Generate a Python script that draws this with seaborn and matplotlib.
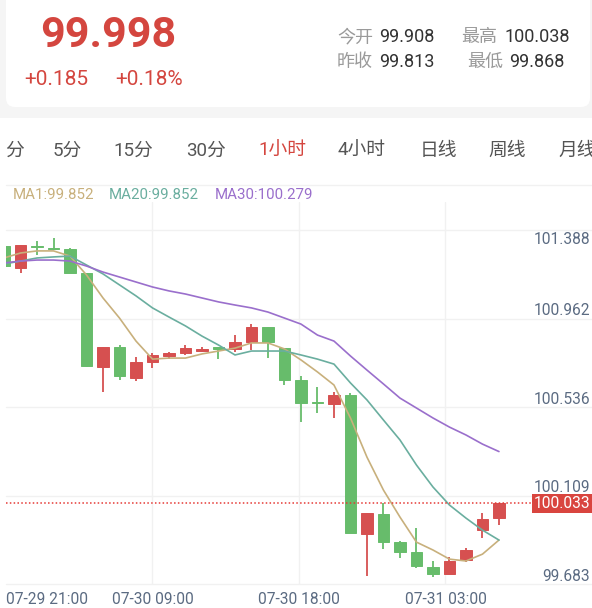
import matplotlib
matplotlib.use("Agg")

import matplotlib.pyplot as plt
import matplotlib.transforms as mtransforms
from matplotlib.lines import Line2D
from matplotlib.patches import FancyBboxPatch, Rectangle
import numpy as np
import seaborn as sns

W, H = 592, 608

# quote header
LAST = "99.998"
CHANGE = "+0.185"
CHANGE_PCT = "+0.18%"
STATS = [("今开", "99.908"), ("最高", "100.038"), ("昨收", "99.813"), ("最低", "99.868")]
TABS = ["分", "5分", "15分", "30分", "1小时", "4小时", "日线", "周线", "月线"]
ACTIVE_TAB = "1小时"

# hourly candles
OPEN = [101.271, 101.165, 101.271, 101.259, 101.256, 101.140, 100.687, 100.783, 100.634, 100.711,
        100.740, 100.754, 100.764, 100.783, 100.774, 100.807, 100.880, 100.778, 100.624, 100.518,
        100.508, 100.552, 99.881, 99.977, 99.842, 99.794, 99.722, 99.688, 99.755, 99.900, 99.958]
HIGH = [101.271, 101.276, 101.295, 101.309, 101.261, 101.140, 100.783, 100.793, 100.735, 100.754,
        100.759, 100.793, 100.783, 100.783, 100.841, 100.894, 100.880, 100.778, 100.643, 100.590,
        100.566, 100.561, 99.982, 100.031, 99.847, 99.910, 99.751, 99.770, 99.813, 99.982, 100.033]
LOW = [101.174, 101.140, 101.227, 101.251, 101.140, 100.687, 100.566, 100.624, 100.619, 100.682,
       100.725, 100.745, 100.759, 100.725, 100.759, 100.769, 100.730, 100.600, 100.421, 100.465,
       100.441, 99.886, 99.678, 99.808, 99.765, 99.717, 99.673, 99.688, 99.746, 99.862, 99.924]
CLOSE = [101.174, 101.276, 101.266, 101.254, 101.140, 100.692, 100.783, 100.643, 100.711, 100.745,
         100.754, 100.778, 100.774, 100.774, 100.807, 100.880, 100.807, 100.624, 100.513, 100.513,
         100.552, 99.886, 99.982, 99.842, 99.794, 99.726, 99.688, 99.751, 99.804, 99.953, 100.033]

MA1 = [101.213, 101.237, 101.247, 101.247, 101.222, 101.131, 101.020, 100.923, 100.812, 100.725,
       100.730, 100.730, 100.750, 100.764, 100.778, 100.803, 100.803, 100.774, 100.721, 100.663,
       100.600, 100.441, 100.252, 100.093, 99.963, 99.842, 99.804, 99.760, 99.751, 99.784, 99.852]
MA20 = [101.184, 101.198, 101.213, 101.218, 101.222, 101.179, 101.136, 101.083, 101.030, 100.972,
        100.928, 100.885, 100.836, 100.793, 100.745, 100.764, 100.764, 100.764, 100.745, 100.725,
        100.701, 100.610, 100.528, 100.431, 100.335, 100.214, 100.108, 100.021, 99.958, 99.900, 99.852]
MA30 = [101.189, 101.198, 101.203, 101.203, 101.198, 101.174, 101.145, 101.121, 101.097, 101.073,
        101.054, 101.039, 101.020, 101.001, 100.986, 100.972, 100.952, 100.923, 100.894, 100.841,
        100.812, 100.740, 100.672, 100.605, 100.537, 100.489, 100.441, 100.397, 100.359, 100.315, 100.279]
MA_LABELS = ["MA1:99.852", "MA20:99.852", "MA30:100.279"]

LAST_PRICE = 100.033
Y_TICK_LABELS = ["101.388", "100.962", "100.536", "100.109", "99.683"]
Y_TICK_POS = [101.309, 100.962, 100.536, 100.109, 99.683]
GRID_LEVELS = [99.640, 100.066, 100.493, 100.919, 101.346]
TIME_LABELS = ["07-29 21:00", "07-30 09:00", "07-30 18:00", "07-31 03:00"]

RED = "#d65050"
GREEN = "#67bc6b"
MA_COLORS = ["#c8b07c", "#6aae9f", "#9a6fcc"]
PRICE_RED = "#d4463f"
AXIS_TXT = "#5b6b82"
GRID = "#f1f1f1"

sns.set_theme(style="white")
plt.rcParams["font.family"] = ["Roboto", "Noto Sans CJK SC", "DejaVu Sans"]

fig = plt.figure(figsize=(W / 100, H / 100), dpi=100)
fig.patch.set_facecolor("white")


def ftext(x, y, s, **kw):
    fig.text(x / W, 1 - y / H, s, va="baseline", **kw)


# header card
fig.add_artist(Rectangle((0, (H - 118) / 100), W / 100, 1.18, transform=fig.dpi_scale_trans,
                         fc="#f5f5f5", ec="none", zorder=0))
fig.add_artist(FancyBboxPatch((6 / 100, (H - 107) / 100), 584 / 100, 1.3,
                              boxstyle="round,pad=0,rounding_size=0.09",
                              transform=fig.dpi_scale_trans, fc="white", ec="none", zorder=0))

ftext(40, 47, LAST, color=PRICE_RED, fontsize=31, fontweight="bold")
ftext(24, 85, CHANGE, color=PRICE_RED, fontsize=15)
ftext(115, 85, CHANGE_PCT, color=PRICE_RED, fontsize=15)

stat_pos = [(337, 379, 42), (461, 504, 42), (337, 379, 67), (467, 509, 67)]
for (lab, val), (xl, xv, yb) in zip(STATS, stat_pos):
    ftext(xl, yb, lab, color="#9a9a9a", fontsize=13)
    ftext(xv, yb, val, color="#333333", fontsize=13)

tab_x = [5, 53, 113, 186, 258, 338, 420, 488, 558]
for t, x in zip(TABS, tab_x):
    ftext(x, 156, t, color=PRICE_RED if t == ACTIVE_TAB else "#555555", fontsize=13.5)

fig.add_artist(Line2D([6 / W, 1], [1 - 185 / H] * 2, color=GRID, lw=1))
for lab, x, c in zip(MA_LABELS, [13, 109, 215], MA_COLORS):
    ftext(x, 199, lab, color=c, fontsize=10.8)

# chart
ax = fig.add_axes([6 / W, (H - 584) / H, 586 / W, 382 / H])
ax.set_facecolor("none")
x0, x1 = 0.12, 35.64
ax.set_xlim(x0, x1)
ax.set_ylim(99.640, 101.483)

for f in (0.25, 0.5, 0.75):
    ax.axvline(x0 + f * (x1 - x0), color=GRID, lw=1, zorder=0)
for lv in GRID_LEVELS:
    ax.axhline(lv, color=GRID, lw=1, zorder=0, clip_on=False)

idx = np.arange(len(OPEN))
o, h, l, c = map(np.array, (OPEN, HIGH, LOW, CLOSE))
cols = [RED if cc >= oo else GREEN for oo, cc in zip(o, c)]
ax.vlines(idx, l, h, colors=cols, lw=1.3, zorder=2)
ax.bar(idx, np.abs(c - o), bottom=np.minimum(o, c), width=0.72, color=cols,
       edgecolor=cols, linewidth=0.7, zorder=3)

for ma, col in zip([MA1, MA20, MA30], MA_COLORS):
    sns.lineplot(x=idx, y=ma, ax=ax, color=col, lw=1.2, zorder=4)

ax.axhline(LAST_PRICE, xmin=0, xmax=0.903, color="#e53935", lw=1.1,
           linestyle=(0, (1, 1.5)), zorder=5)

trans = mtransforms.blended_transform_factory(ax.transAxes, ax.transData)
lab_trans = mtransforms.offset_copy(trans, fig=fig, x=0, y=-5.5, units="dots")
for lab, pos in zip(Y_TICK_LABELS, Y_TICK_POS):
    ax.text(0.9966, pos, lab, transform=lab_trans, ha="right", va="baseline",
            color=AXIS_TXT, fontsize=11.2, zorder=6)
ax.text(0.9966, LAST_PRICE, f"{LAST_PRICE:.3f}", transform=lab_trans, ha="right", va="baseline",
        color="white", fontsize=11.2, zorder=7,
        bbox=dict(boxstyle="square,pad=0.12", fc="#d9453f", ec="none"))

for i, lab in enumerate(TIME_LABELS):
    ax.text(i * 0.25, -20 / 382, lab, transform=ax.transAxes, ha="left" if i == 0 else "center",
            va="baseline", color=AXIS_TXT, fontsize=11.2)

ax.set_xticks([])
ax.set_yticks([])
ax.set_xlabel("")
ax.set_ylabel("")
for s in ax.spines.values():
    s.set_visible(False)

fig.savefig("out.png", dpi=100, facecolor="white")
